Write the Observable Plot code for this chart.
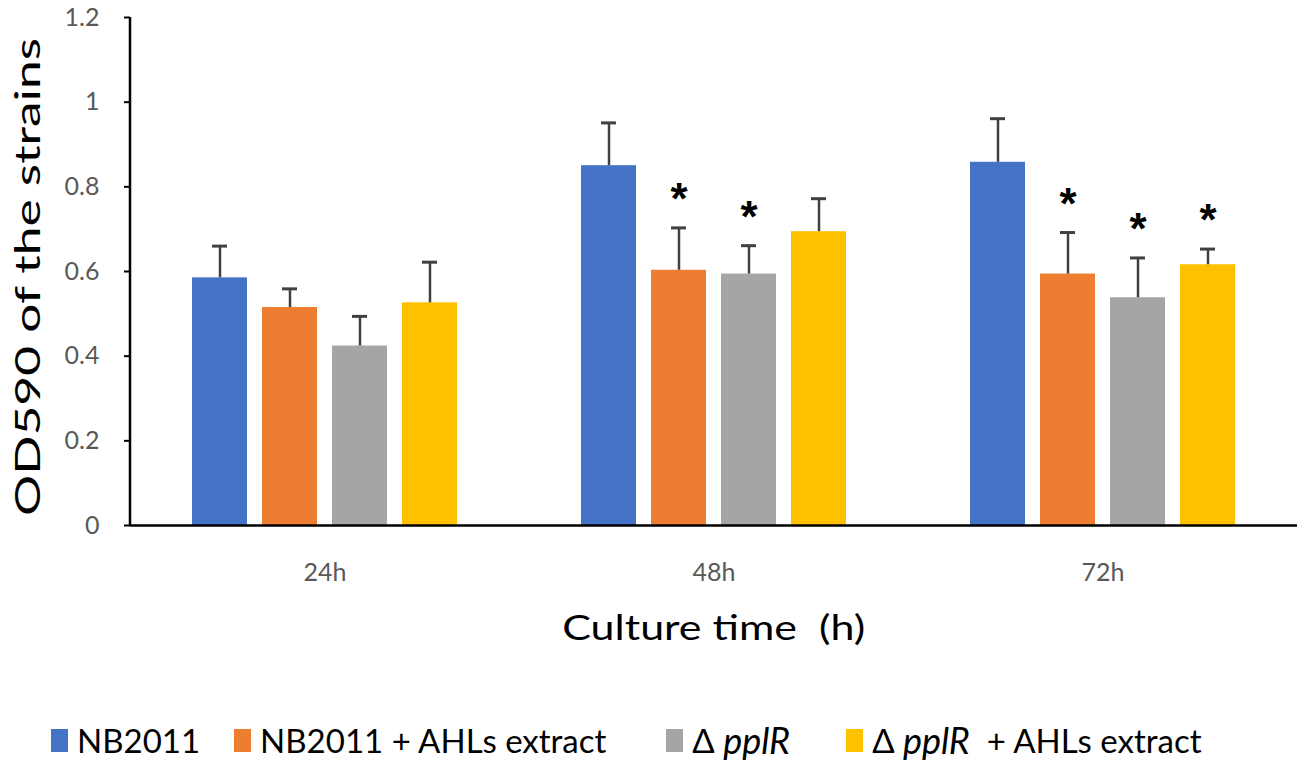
<!DOCTYPE html>
<html>
<head>
<meta charset="utf-8">
<script src="https://cdn.jsdelivr.net/npm/d3@7"></script>
<script src="https://cdn.jsdelivr.net/npm/@observablehq/plot@0.6"></script>
<style>
  body { margin: 0; background: #fff; font-family: Lato, "Open Sans", sans-serif; }
  #legend { display: flex; align-items: center; margin-top: 50px; padding-left: 51px; height: 40px; font-size: 33px; color: #000; white-space: nowrap; }
  .item { display: flex; align-items: center; }
  .sw { width: 17px; height: 23px; margin-right: 9px; display: inline-block; }
  .it { font-style: italic; font-size: 36px; }
</style>
</head>
<body>
<div id="chart"></div>
<div id="legend"></div>
<script>
const times = ["24h", "48h", "72h"];
const strains = ["NB2011", "NB2011 + AHLs extract", "ΔpplR", "ΔpplR + AHLs extract"];
const colors = ["#4472C4", "#ED7D31", "#A5A5A5", "#FFC000"];
const mean24 = [0.585, 0.515, 0.424, 0.526];
const mean48 = [0.850, 0.603, 0.594, 0.694];
const mean72 = [0.858, 0.594, 0.538, 0.616];
const err24 = [0.075, 0.044, 0.070, 0.096];
const err48 = [0.101, 0.100, 0.067, 0.078];
const err72 = [0.103, 0.098, 0.094, 0.037];
const sig24 = [false, false, false, false];
const sig48 = [false, true, true, false];
const sig72 = [false, true, true, true];
const yTicks = [0, 0.2, 0.4, 0.6, 0.8, 1, 1.2];

const means = [mean24, mean48, mean72];
const errs = [err24, err48, err72];
const sigs = [sig24, sig48, sig72];
const data = [];
times.forEach((t, i) => strains.forEach((s, j) => {
  data.push({time: t, strain: s, value: means[i][j], top: means[i][j] + errs[i][j], sig: sigs[i][j]});
}));

const chart = Plot.plot({
  width: 1299,
  height: 670,
  marginLeft: 130,
  marginRight: 1.5,
  marginTop: 17,
  marginBottom: 145,
  style: {fontFamily: "Lato, 'Open Sans', sans-serif", background: "#fff", overflow: "visible"},
  fx: {domain: times, padding: 0, label: null},
  x: {domain: strains, paddingInner: 0.22, paddingOuter: 0.87, axis: null},
  y: {domain: [0, 1.2], label: null},
  color: {domain: strains, range: colors},
  marks: [
    Plot.barY(data, {fx: "time", x: "strain", y: "value", fill: "strain"}),
    Plot.ruleX(data, {fx: "time", x: "strain", y1: "value", y2: "top", stroke: "#404040", strokeWidth: 2.5}),
    Plot.tickY(data, {fx: "time", x: "strain", y: "top", stroke: "#404040", strokeWidth: 3, insetLeft: 20, insetRight: 20}),
    Plot.text(data.filter(d => d.sig), {fx: "time", x: "strain", y: "top", text: () => "*", dy: -28, fontSize: 44, fontWeight: "bold", fill: "#000", fontFamily: "Liberation Sans, sans-serif"}),
    Plot.ruleY([0], {stroke: "#000", strokeWidth: 2.5}),
    Plot.axisY({ticks: yTicks, tickFormat: d => String(+d.toFixed(1)), tickSize: 6, tickPadding: 25, stroke: "#000", strokeWidth: 2, fontSize: 25, fill: "#595959", label: null}),
    Plot.axisFx({anchor: "bottom", tickSize: 0, tickPadding: 38, fontSize: 25, fill: "#595959", label: null})
  ]
});

document.getElementById("chart").appendChild(chart);

// y axis line and axis titles, positioned from the scales
const svg = d3.select(chart);
const ys = chart.scale("y");
const fxs = chart.scale("fx");
const x0 = fxs.range[0];
const x1 = fxs.range[1];
svg.append("line")
  .attr("x1", x0).attr("x2", x0)
  .attr("y1", ys.apply(0) + 1).attr("y2", ys.apply(1.2))
  .attr("stroke", "#000").attr("stroke-width", 2.5);

svg.append("text")
  .attr("x", (x0 + x1) / 2).attr("y", 631)
  .attr("text-anchor", "middle").attr("dominant-baseline", "middle")
  .attr("font-size", 34).attr("fill", "#000")
  .attr("textLength", 303).attr("lengthAdjust", "spacingAndGlyphs")
  .text("Culture time  (h)");

svg.append("text")
  .attr("transform", `translate(31,${(ys.apply(0) + ys.apply(1.2)) / 2 + 6}) rotate(-90)`)
  .attr("text-anchor", "middle").attr("dominant-baseline", "middle")
  .attr("font-size", 34).attr("fill", "#000")
  .attr("textLength", 478).attr("lengthAdjust", "spacingAndGlyphs")
  .text("OD590 of the strains");

// legend
const legendLabels = [
  ["NB2011"],
  ["NB2011 + AHLs extract"],
  ["Δ ", "pplR"],
  ["Δ ", "pplR", "  + AHLs extract"]
];
const gaps = [0, 34, 60, 56];
const leg = document.getElementById("legend");
legendLabels.forEach((parts, i) => {
  const item = document.createElement("span");
  item.className = "item";
  item.style.marginLeft = gaps[i] + "px";
  const sw = document.createElement("span");
  sw.className = "sw";
  sw.style.background = colors[i];
  item.appendChild(sw);
  parts.forEach((p, k) => {
    const s = document.createElement("span");
    s.textContent = p;
    s.style.whiteSpace = "pre";
    if (k === 1) s.className = "it";
    item.appendChild(s);
  });
  leg.appendChild(item);
});
</script>
</body>
</html>
